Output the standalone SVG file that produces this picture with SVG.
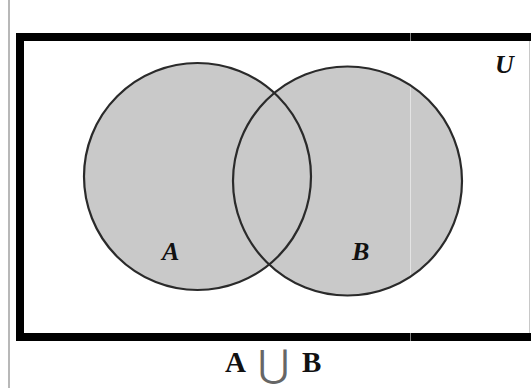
<svg xmlns="http://www.w3.org/2000/svg" width="531" height="388" viewBox="0 0 531 388">
<style>
.fill{fill:#c9c9c9;stroke:none}
.edge{fill:none;stroke:#2a2a2a;stroke-width:2.2}
.lbl{font-family:"Liberation Serif",serif;font-style:italic;font-weight:bold;font-size:26px;fill:#111}
.cap{font-family:"Liberation Serif",serif;font-weight:bold;font-size:29px;fill:#111}
</style>
<rect width="531" height="388" fill="#fff"/>
<line x1="9" y1="0" x2="9" y2="388" stroke="#a0a0a0" stroke-width="1.5"/>
<g id="universe">
<path d="M531 37H20V337H531" fill="none" stroke="#000" stroke-width="8" stroke-linejoin="miter"/>
<line x1="529.5" y1="41" x2="529.5" y2="333" stroke="#c8c8c8" stroke-width="1"/>
<text class="lbl" x="495" y="73">U</text>
</g>
<g id="setA-fill"><circle class="fill" cx="197.5" cy="176.5" r="113.5"/></g>
<g id="setB-fill"><circle class="fill" cx="347.5" cy="181" r="114.5"/></g>
<line x1="410.5" y1="33" x2="410.5" y2="341" stroke="#fff" stroke-width="1" opacity="0.5"/>
<g id="setA">
<circle class="edge" cx="197.5" cy="176.5" r="113.5"/>
<text class="lbl" x="162" y="260">A</text>
</g>
<g id="setB">
<circle class="edge" cx="347.5" cy="181" r="114.5"/>
<text class="lbl" x="352" y="260">B</text>
</g>
<g id="connectors"/>
<g id="caption">
<text class="cap" x="225" y="372">A</text>
<text x="273.5" y="377" font-family="DejaVu Serif,serif" font-size="38" fill="#666" text-anchor="middle">⋃</text>
<text class="cap" x="302" y="372">B</text>
</g>
</svg>
